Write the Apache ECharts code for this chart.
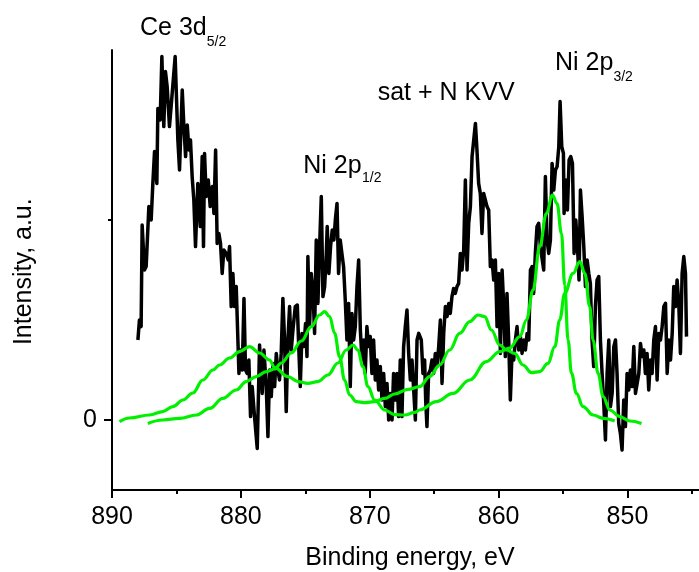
<!DOCTYPE html>
<html>
<head>
<meta charset="utf-8">
<script src="https://cdn.jsdelivr.net/npm/echarts@6/dist/echarts.min.js"></script>
<style>
html,body{margin:0;padding:0;background:#fff;}
#chart{width:699px;height:572px;}
</style>
</head>
<body>
<div id="chart"></div>
<script>
// ---- data ----
const xTickMajor = [850, 860, 870, 880, 890];
const xTickMinor = [845, 855, 865, 875, 885];
const yTickLabeled = [0];
const yTickMinor = [1000];

const xAxisTitle = 'Binding energy, eV';
const yAxisTitle = 'Intensity, a.u.';

// [binding energy (eV), intensity (a.u.)]
const blackSpectrum = [
[887.99,400],[887.87,500],[887.74,467],[887.66,975],[887.48,750],[887.35,767],[887.14,1067],[886.96,1000],[886.83,1183],[886.70,1342],
[886.52,1183],[886.44,1558],[886.26,1500],[886.13,1817],[885.98,1467],[885.85,1742],[885.72,1667],[885.54,1467],[885.33,1633],[885.10,1817],
[884.89,1400],[884.76,1250],[884.55,1650],[884.42,1467],[884.29,1317],[884.16,1475],[884.03,1350],[883.91,1400],[883.78,1217],[883.65,1100],
[883.52,867],[883.34,1183],[883.15,967],[883.00,1317],[882.90,867],[882.82,1333],[882.69,1117],[882.53,1200],[882.38,1067],[882.22,1167],
[882.09,1033],[881.96,1350],[881.84,883],[881.71,933],[881.58,883],[881.45,733],[881.32,850],[881.14,833],[880.98,800],[880.88,867],
[880.75,567],[880.62,733],[880.49,567],[880.36,667],[880.15,233],[880.02,350],[879.89,250],[879.76,608],[879.64,250],[879.51,233],
[879.38,300],[879.25,17],[879.12,167],[878.94,17],[878.73,-142],[878.55,375],[878.34,133],[878.21,350],[878.03,167],[877.90,-83],
[877.77,250],[877.64,117],[877.51,283],
[877.38,167],[877.25,333],[877.13,250],[877.00,200],[876.87,333],[876.74,608],[876.61,400],[876.48,42],[876.35,400],[876.22,567],
[876.09,350],[875.96,450],[875.78,567],[875.62,575],[875.52,383],[875.39,167],[875.26,433],[875.11,367],[874.98,483],[874.87,317],
[874.80,817],[874.67,467],[874.54,733],[874.41,650],[874.28,433],[874.15,900],[874.02,583],[873.89,867],[873.76,1117],[873.63,617],
[873.50,667],[873.37,833],[873.30,967],[873.17,733],[873.04,867],[872.91,950],[872.78,900],[872.67,1000],[872.54,1083],[872.42,733],
[872.29,900],[872.16,833],[872.03,767],[871.90,600],[871.77,400],[871.64,583],[871.51,167],[871.38,533],[871.25,400],[871.12,467],
[870.99,667],[870.86,800],[870.73,450],[870.60,300],[870.47,400],[870.35,233],[870.22,467],[870.09,367],[869.96,417],[869.83,233],
[869.70,400],[869.57,200],[869.44,300],[869.31,150],[869.18,267],[869.05,100],[868.92,233],[868.79,67],[868.66,183],[868.53,0],
[868.40,133],[868.27,0],[868.15,233],[868.02,100],[867.89,233],[867.76,17],[867.63,300],[867.50,17],[867.37,367],[867.24,467],
[867.11,550],[866.98,333],[866.85,200],[866.72,300],[866.59,150],[866.46,0],[866.33,400],[866.20,433],
[866.00,400],[865.87,233],[865.74,300],[865.66,100],[865.56,-33],[865.43,233],[865.30,250],[865.17,300],[865.04,233],[864.91,333],
[864.78,267],[864.65,367],[864.52,500],[864.39,183],[864.26,433],[864.13,567],[864.00,517],[863.87,583],[863.75,533],[863.62,617],
[863.49,658],[863.36,633],[863.23,667],[863.10,683],[862.97,833],[862.84,750],[862.71,850],[862.58,1200],[862.45,750],[862.32,983],
[862.19,1067],[862.06,1317],[861.93,1400],[861.80,1483],[861.68,1350],[861.55,1183],[861.42,1133],[861.29,933],[861.16,1133],[861.03,1100],
[860.90,1067],[860.77,1050],[860.64,767],[860.51,800],[860.38,700],[860.25,800],[860.12,467],[859.99,733],[859.86,333],[859.73,750],
[859.60,567],[859.48,317],[859.35,633],[859.22,400],[859.09,100],[858.96,333],[858.83,300],[858.70,400],[858.57,467],[858.44,350],
[858.31,417],[858.18,333],[858.05,400],[857.92,350],[857.79,433],[857.66,400],[857.53,750],[857.40,767],[857.28,633],[857.15,833],
[857.02,967],[856.89,983],[856.76,867],[856.63,867],[856.50,750],[856.37,1217],[856.24,900],[856.11,833],[855.98,900],[855.85,1283],
[855.72,1150],[855.59,1250],[855.46,1267],[855.33,1367],[855.23,1592],[855.10,1367],[854.97,1333],
[854.92,1033],[854.79,1200],[854.66,1050],[854.53,1300],[854.40,1317],[854.27,1283],[854.14,833],[854.01,1000],[853.88,867],[853.76,700],
[853.65,1150],[853.52,1017],[853.39,867],[853.26,667],[853.13,800],[853.00,733],[852.88,683],[852.75,400],[852.62,267],[852.49,567],
[852.36,700],[852.23,717],[852.10,400],[851.97,233],[851.84,83],[851.71,-100],[851.58,233],[851.45,400],[851.32,67],[851.19,133],
[851.06,367],[850.93,400],[850.81,233],[850.68,-17],[850.55,-67],[850.42,-150],[850.29,100],[850.16,-33],[850.03,233],[849.90,150],
[849.77,250],[849.64,167],[849.51,367],[849.38,133],[849.25,183],[849.12,233],[848.99,383],[848.86,317],[848.73,350],[848.61,233],
[848.48,333],[848.35,150],[848.22,300],[848.09,233],[847.96,400],[847.83,467],[847.70,200],[847.57,433],[847.44,400],[847.31,467],
[847.18,567],[847.05,583],[846.92,233],[846.79,400],[846.66,300],[846.53,433],[846.41,667],[846.28,567],[846.15,700],[846.02,583],
[845.89,333],[845.76,733],[845.63,817],[845.50,733],[845.42,417]
];

const fitCurveA = [
[889.42,-8],[888.64,10],[887.09,25],[886.06,42],[885.28,67],[884.50,100],[883.73,135],[882.95,200],[882.17,250],[881.65,275],
[880.88,310],[880.10,342],[879.32,367],[878.55,335],[877.77,300],[877.38,262],[876.35,217],[875.57,192],[874.80,183],[874.02,192],
[873.25,225],[872.47,285],[871.82,350],[871.30,375],[870.92,350],[870.53,267],[870.14,167],[869.62,100],[868.84,50],[868.07,27],
[867.29,25],[866.51,38],[866.13,50],[864.83,92],[863.54,133],[862.24,200],[860.95,292],[859.91,342],[859.14,360],[858.36,417],
[857.84,500],[857.33,650],[856.81,867],[856.29,1033],[855.82,1125],[855.47,1083],[855.12,933],[854.87,675],[854.61,400],[854.35,235],
[853.96,133],[853.45,67],[852.67,25],[851.89,8],[850.99,-5]
];

const fitCurveB = [
[887.22,-17],[886.06,0],[884.76,8],[883.46,25],[882.43,58],[881.40,108],[880.36,150],[879.58,192],[878.80,217],[878.03,242],
[877.38,255],[876.86,285],[876.09,335],[875.31,395],[874.53,467],[873.89,525],[873.50,542],[873.11,517],[872.73,435],[872.34,317],
[871.95,200],[871.56,125],[871.04,92],[870.40,87],[869.62,92],[868.84,108],[868.07,130],[867.03,153],[866.13,167],[865.35,217],
[864.57,275],[863.80,350],[863.02,433],[862.24,492],[861.60,525],[861.08,517],[860.56,450],[859.91,375],[859.39,350],[858.75,333],
[858.11,275],[857.45,237],[856.81,242],[856.17,283],[855.64,367],[855.26,500],[854.87,633],[854.22,733],[853.70,792],[853.31,733],
[852.93,567],[852.67,400],[852.28,233],[851.89,117],[851.37,50],[850.60,17],[849.82,-5],[848.91,-17]
];

// peak annotations: main text + subscript
const peakLabels = [
  { main: 'Ce 3d', sub: '5/2' },
  { main: 'Ni 2p', sub: '1/2' },
  { main: 'sat + N KVV', sub: '' },
  { main: 'Ni 2p', sub: '3/2' }
];

// ---- layout / style ----
const FONT = "'Liberation Sans', Arial, Helvetica, sans-serif";
const labelPos = [
  { x: 140, y: 28, sx: 206.7, sy: 41.8 },
  { x: 303.3, y: 166.3, sx: 362, sy: 178.5 },
  { x: 377.7, y: 93, sx: 0, sy: 0 },
  { x: 555, y: 63, sx: 613.4, sy: 76.8 }
];

function txt(x, y, text, size, align, rotation) {
  return {
    type: 'text', x: x, y: y, rotation: rotation || 0, silent: true, z: 100,
    style: {
      text: text, fill: '#000', font: size + 'px ' + FONT,
      fontSize: size, fontFamily: FONT,
      textAlign: align, align: align,
      textVerticalAlign: 'middle', verticalAlign: 'middle'
    }
  };
}

const graphics = [];
peakLabels.forEach(function (p, i) {
  const pos = labelPos[i];
  graphics.push(txt(pos.x, pos.y, p.main, 25, 'left'));
  if (p.sub) graphics.push(txt(pos.sx, pos.sy, p.sub, 14, 'left'));
});
graphics.push(txt(410, 558.3, xAxisTitle, 25, 'center'));
graphics.push(txt(24, 271.7, yAxisTitle, 25, 'center', Math.PI / 2));

const axisLineStyle = { color: '#000', width: 2 };
const X_MIN = 844.45, X_MAX = 890;
const Y_MIN = -350, Y_MAX = 1850;

const chart = echarts.init(document.getElementById('chart'), null, { renderer: 'canvas' });
chart.setOption({
  animation: false,
  backgroundColor: '#fff',
  grid: { left: 112, right: 0, top: 50, bottom: 82, containLabel: false },
  xAxis: [{
    type: 'value', inverse: true, min: X_MIN, max: X_MAX, position: 'bottom',
    axisLine: { show: true, onZero: false, lineStyle: axisLineStyle },
    axisTick: { show: true, customValues: xTickMajor, length: 8, lineStyle: axisLineStyle },
    axisLabel: { show: true, customValues: xTickMajor, margin: 15, color: '#000', fontSize: 25, fontFamily: FONT },
    splitLine: { show: false }
  }, {
    type: 'value', inverse: true, min: X_MIN, max: X_MAX, position: 'bottom', offset: 0,
    axisLine: { show: false, onZero: false },
    axisTick: { show: true, customValues: xTickMinor, length: 4, lineStyle: axisLineStyle },
    axisLabel: { show: false },
    splitLine: { show: false }
  }],
  yAxis: [{
    type: 'value', min: Y_MIN, max: Y_MAX, position: 'left',
    axisLine: { show: true, onZero: false, lineStyle: axisLineStyle },
    axisTick: { show: true, customValues: yTickLabeled, length: 8, lineStyle: axisLineStyle },
    axisLabel: { show: true, customValues: yTickLabeled, margin: 15, color: '#000', fontSize: 25, fontFamily: FONT,
      formatter: function (v) { return String(Math.round(v)); } },
    splitLine: { show: false }
  }, {
    type: 'value', min: Y_MIN, max: Y_MAX, position: 'left', offset: 0,
    axisLine: { show: false, onZero: false },
    axisTick: { show: true, customValues: yTickMinor, length: 4, lineStyle: axisLineStyle },
    axisLabel: { show: false },
    splitLine: { show: false }
  }],
  series: [{
    type: 'line', xAxisIndex: 0, yAxisIndex: 0, data: blackSpectrum,
    showSymbol: false, symbol: 'none', z: 2,
    lineStyle: { color: '#000', width: 3.5, join: 'round' }
  }, {
    type: 'line', xAxisIndex: 0, yAxisIndex: 0, data: fitCurveA,
    showSymbol: false, symbol: 'none', smooth: 0.4, smoothMonotone: 'x', z: 3,
    lineStyle: { color: '#00f000', width: 3.2 }
  }, {
    type: 'line', xAxisIndex: 0, yAxisIndex: 0, data: fitCurveB,
    showSymbol: false, symbol: 'none', smooth: 0.4, smoothMonotone: 'x', z: 3,
    lineStyle: { color: '#00f000', width: 3.2 }
  }],
  graphic: graphics
});
</script>
</body>
</html>
